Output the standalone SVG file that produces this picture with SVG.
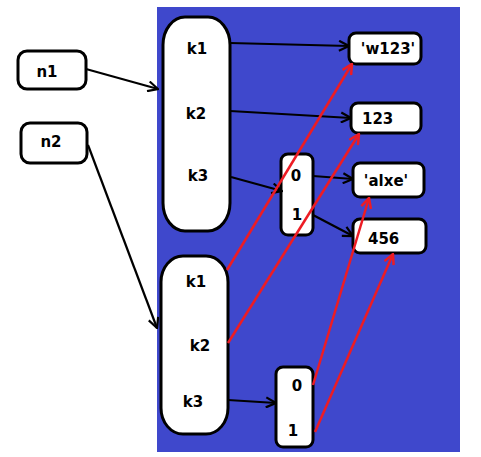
<svg xmlns="http://www.w3.org/2000/svg" width="481" height="457" viewBox="0 0 481 457">
<style>
.box{fill:#fff;stroke:#000;stroke-width:3}
.t{font-family:"DejaVu Sans","Liberation Sans",sans-serif;font-weight:bold;font-size:15px;fill:#000}
.k{stroke:#000;stroke-width:2.2;fill:none;marker-end:url(#ak)}
.r{stroke:#ed1c24;stroke-width:2.5;fill:none;marker-end:url(#ar)}
</style>
<defs>
<marker id="ak" viewBox="0 0 12 12" refX="11" refY="6" markerWidth="12" markerHeight="12" markerUnits="userSpaceOnUse" orient="auto">
<polyline points="1,1 11,6 1,11" fill="none" stroke="#000" stroke-width="2.2"/>
</marker>
<marker id="ar" viewBox="0 0 12 12" refX="11" refY="6" markerWidth="12" markerHeight="12" markerUnits="userSpaceOnUse" orient="auto">
<polyline points="1,1 11,6 1,11" fill="none" stroke="#ed1c24" stroke-width="2.5"/>
</marker>
</defs>
<rect x="0" y="0" width="481" height="457" fill="#fff"/>
<rect x="157" y="7" width="303" height="445" fill="#3f48cc"/>
<g id="n1"><rect class="box" x="18" y="51" width="68" height="38" rx="9"/><text class="t" x="47" y="77" text-anchor="middle">n1</text></g>
<g id="n2"><rect class="box" x="21" y="123" width="66" height="40" rx="9"/><text class="t" x="51" y="147" text-anchor="middle">n2</text></g>
<g id="dict1"><rect class="box" x="163" y="17" width="67" height="214" rx="22" ry="28"/>
<text class="t" x="197" y="54" text-anchor="middle">k1</text>
<text class="t" x="196" y="119" text-anchor="middle">k2</text>
<text class="t" x="198" y="181" text-anchor="middle">k3</text></g>
<g id="dict2"><rect class="box" x="161" y="256" width="67" height="178" rx="22" ry="26"/>
<text class="t" x="196" y="287" text-anchor="middle">k1</text>
<text class="t" x="200" y="351" text-anchor="middle">k2</text>
<text class="t" x="193" y="407" text-anchor="middle">k3</text></g>
<g id="list1"><rect class="box" x="281" y="154" width="32" height="81" rx="7"/>
<text class="t" x="296" y="181" text-anchor="middle">0</text>
<text class="t" x="297" y="220" text-anchor="middle">1</text></g>
<g id="list2"><rect class="box" x="276" y="367" width="37" height="80" rx="7"/>
<text class="t" x="297" y="391" text-anchor="middle">0</text>
<text class="t" x="293" y="436" text-anchor="middle">1</text></g>
<g id="vw123"><rect class="box" x="349" y="33" width="72" height="31" rx="7"/><text class="t" x="388" y="54" text-anchor="middle">'w123'</text></g>
<g id="v123"><rect class="box" x="351" y="103" width="70" height="30" rx="7"/><text class="t" x="362" y="124">123</text></g>
<g id="valxe"><rect class="box" x="353" y="163" width="71" height="34" rx="7"/><text class="t" x="386" y="186" text-anchor="middle">'alxe'</text></g>
<g id="v456"><rect class="box" x="353" y="219" width="73" height="34" rx="7"/><text class="t" x="368" y="244">456</text></g>
<g id="connectors">
<line class="k" x1="86" y1="69" x2="158" y2="89"/>
<line class="k" x1="88" y1="145" x2="157" y2="328"/>
<line class="k" x1="230" y1="43" x2="349" y2="46"/>
<line class="k" x1="230" y1="111" x2="351" y2="118"/>
<line class="k" x1="231" y1="177" x2="282" y2="191"/>
<line class="k" x1="313" y1="176" x2="353" y2="179"/>
<line class="k" x1="313" y1="215" x2="353" y2="236"/>
<line class="k" x1="228" y1="400" x2="276" y2="403"/>
<line class="r" x1="227" y1="270" x2="352" y2="64"/>
<line class="r" x1="228" y1="343" x2="359" y2="134"/>
<line class="r" x1="313" y1="385" x2="369" y2="198"/>
<line class="r" x1="315" y1="432" x2="393" y2="254"/>
</g>
</svg>
